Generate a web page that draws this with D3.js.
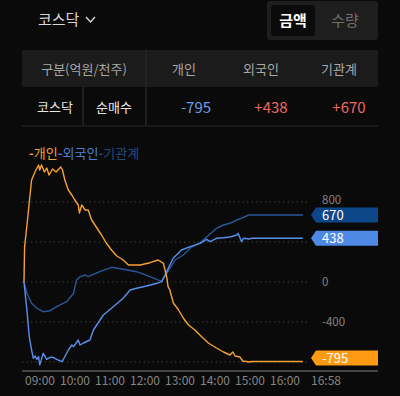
<!DOCTYPE html>
<html>
<head>
<meta charset="utf-8">
<script src="https://cdn.jsdelivr.net/npm/d3@7"></script>
<style>
  body { margin: 0; background: #0a0a0a; }
  svg text { font-family: "Noto Sans CJK KR", "Noto Sans", sans-serif; }
</style>
</head>
<body>
<div class="canva"></div>
<script>
// 데이터 (억원)
const headCols = ['개인', '외국인', '기관계'];
const totals = [-795, 438, 670];

const personTimes = ['09:00','09:01','09:06','09:10','09:13','09:19','09:25','09:27','09:30','09:35','09:39','09:43','09:49','09:55','10:03','10:06','10:10','10:16','10:22','10:27','10:33','10:35','10:39','10:45','10:50','10:56','11:05','11:13','11:21','11:30','11:39','11:50','11:59','12:19','12:36','12:50','12:59','13:05','13:07','13:10','13:16','13:25','13:33','13:42','13:53','14:05','14:16','14:30','14:42','14:53','14:58','15:02','15:10','15:15','15:27','15:30','16:58'];
const personValues = [0,350,620,853,1020,1103,1170,1120,1170,1100,1140,1070,1130,1100,1150,1120,1020,920,870,820,770,690,770,720,720,620,540,470,390,320,260,220,170,170,193,220,187,40,-47,-80,-210,-280,-360,-430,-480,-550,-610,-660,-700,-730,-700,-740,-750,-790,-800,-795,-795];

const foreignTimes = ['09:00','09:05','09:09','09:13','09:16','09:19','09:22','09:25','09:27','09:33','09:39','09:45','09:50','09:56','10:05','10:07','10:16','10:22','10:25','10:33','10:36','10:42','10:53','10:59','11:16','11:33','11:50','12:02','12:13','12:30','12:48','12:56','13:02','13:10','13:16','13:25','13:30','13:45','14:02','14:13','14:19','14:30','14:42','14:53','15:05','15:07','15:13','15:16','15:27','15:30','16:58'];
const foreignValues = [0,-280,-547,-680,-763,-740,-773,-747,-830,-713,-773,-753,-753,-773,-797,-780,-680,-630,-647,-580,-630,-610,-580,-480,-330,-247,-163,-80,-63,-40,-13,3,70,170,240,290,320,353,387,427,403,437,443,450,470,487,403,437,430,438,438];

const instTimes = ['09:00','09:05','09:13','09:22','09:33','09:45','09:56','10:13','10:25','10:30','10:36','10:45','10:50','11:10','11:30','11:50','12:13','12:36','12:53','12:56','13:05','13:19','13:33','13:45','14:02','14:19','14:30','14:42','14:53','15:05','15:16','15:25','15:30','16:58'];
const instValues = [0,-113,-213,-263,-297,-287,-247,-197,-113,20,53,70,53,103,147,127,103,53,13,10,90,220,270,340,393,480,537,570,587,620,647,670,670,670];

const xTicks = ['09:00','10:00','11:00','12:00','13:00','14:00','15:00','16:00'];
const yTicks = [800, 400, 0, -400, -800];
const nowLabel = '16:58';

const colors = ['#f6a135', '#5a90ec', '#28589a'];
const legendColors = ['#f6a135', '#4a7fd6', '#22497d'];
const tagColors = ['#ff9a12', '#4f89e6', '#0d4689'];

const toMin = s => { const p = s.split(':'); return (+p[0] - 9) * 60 + (+p[1]); };

const canva = d3.select('.canva');
const svg = canva.append('svg')
  .attr('width', 400)
  .attr('height', 396);

svg.append('rect').attr('width', 400).attr('height', 396).attr('fill', '#0a0a0a');

// 상단 헤더
svg.append('text').text('코스닥').attr('x', 38).attr('y', 25)
  .attr('fill', '#d8d8d8').attr('font-size', 15);
svg.append('path').attr('d', 'M86,17 L90.5,22 L95,17')
  .attr('fill', 'none').attr('stroke', '#d8d8d8').attr('stroke-width', 1.4);

svg.append('rect').attr('x', 267).attr('y', 1).attr('width', 111).attr('height', 39)
  .attr('rx', 3).attr('fill', '#1e1e1e');
svg.append('rect').attr('x', 271).attr('y', 5).attr('width', 44).attr('height', 31)
  .attr('rx', 3).attr('fill', '#0b0b0b');
svg.append('text').text('금액').attr('x', 293).attr('y', 26).attr('text-anchor', 'middle')
  .attr('fill', '#fff').attr('font-size', 15).attr('font-weight', 'bold');
svg.append('text').text('수량').attr('x', 345).attr('y', 26).attr('text-anchor', 'middle')
  .attr('fill', '#6f6f6f').attr('font-size', 15);

// 표
svg.append('rect').attr('x', 22).attr('y', 50).attr('width', 356).attr('height', 37).attr('fill', '#1b1b1b');
svg.append('line').attr('x1', 146).attr('x2', 146).attr('y1', 50).attr('y2', 126)
  .attr('stroke', '#262626').attr('stroke-width', 1.5);
svg.append('line').attr('x1', 83).attr('x2', 83).attr('y1', 87).attr('y2', 126)
  .attr('stroke', '#262626').attr('stroke-width', 1.5);
svg.append('line').attr('x1', 22).attr('x2', 378).attr('y1', 126).attr('y2', 126)
  .attr('stroke', '#262626').attr('stroke-width', 1);

svg.append('text').text('구분(억원/천주)').attr('x', 84).attr('y', 74).attr('text-anchor', 'middle')
  .attr('fill', '#a8a8a8').attr('font-size', 13);
svg.append('text').text('코스닥').attr('x', 55).attr('y', 112).attr('text-anchor', 'middle')
  .attr('fill', '#e6e6e6').attr('font-size', 13);
svg.append('text').text('순매수').attr('x', 114).attr('y', 112).attr('text-anchor', 'middle')
  .attr('fill', '#e6e6e6').attr('font-size', 13);

const colX = [184, 261, 339];
const valX = [196, 271, 349];
svg.selectAll('text.head')
  .data(headCols)
  .enter()
  .append('text')
  .attr('class', 'head')
  .attr('x', (d, i) => colX[i])
  .attr('y', 74)
  .attr('text-anchor', 'middle')
  .attr('fill', '#a8a8a8')
  .attr('font-size', 13)
  .text(d => d);

svg.selectAll('text.total')
  .data(totals)
  .enter()
  .append('text')
  .attr('class', 'total')
  .attr('x', (d, i) => valX[i])
  .attr('y', 113)
  .attr('text-anchor', 'middle')
  .attr('fill', d => d < 0 ? '#6c9ee8' : '#f06868')
  .attr('font-size', 15)
  .text(d => (d > 0 ? '+' : '') + d);

// 범례
const legend = svg.append('text').attr('x', 29).attr('y', 158).attr('font-size', 13);
headCols.forEach((d, i) => {
  legend.append('tspan').attr('fill', legendColors[i]).attr('font-weight', 'bold').text('-');
  legend.append('tspan').attr('fill', legendColors[i]).text(d);
});

// 차트
const x = d3.scaleLinear().domain([0, 480]).range([24, 304]);
const y = d3.scaleLinear().domain([-800, 800]).range([362, 202]);

svg.selectAll('line.grid')
  .data(yTicks)
  .enter()
  .append('line')
  .attr('class', 'grid')
  .attr('x1', 22).attr('x2', 308)
  .attr('y1', d => y(d)).attr('y2', d => y(d))
  .attr('stroke', '#3c3c3c')
  .attr('stroke-dasharray', '1.5,3');

// 축 라인
svg.append('line').attr('x1', 22).attr('x2', 378).attr('y1', 371).attr('y2', 371)
  .attr('stroke', '#5a5a5a').attr('stroke-width', 1.5);

svg.selectAll('text.xt')
  .data(xTicks)
  .enter()
  .append('text')
  .attr('class', 'xt')
  .attr('x', d => x(toMin(d)) + 1)
  .attr('y', 385)
  .attr('fill', '#858585')
  .attr('font-size', 12)
  .text(d => d);
svg.append('text').text(nowLabel).attr('x', 311).attr('y', 385)
  .attr('fill', '#858585').attr('font-size', 12);

const series = [
  { t: personTimes, v: personValues },
  { t: foreignTimes, v: foreignValues },
  { t: instTimes, v: instValues }
];

const line = d3.line()
  .x(d => x(d[0]))
  .y(d => y(d[1]));

// 그리는 순서: 기관계, 외국인, 개인
[2, 1, 0].forEach(k => {
  const pts = series[k].t.map((t, i) => [toMin(t), series[k].v[i]]);
  svg.append('path')
    .datum(pts)
    .attr('d', line)
    .attr('fill', 'none')
    .attr('stroke', colors[k])
    .attr('stroke-width', 1.4)
    .attr('stroke-linejoin', 'round');
});

// 오른쪽 태그
const tagY = totals.map(d => Math.min(y(d), 358));
const tagH = 15;

// 태그랑 겹치는 눈금은 숨기고, 가까우면 위로 살짝 올림
const labelY = d => {
  let ly = y(d) + 4;
  tagY.forEach(ty => {
    const top = ty - tagH / 2;
    if (ly > top - 4 && ly < top + 4) ly = top - 4;
  });
  return ly;
};

svg.selectAll('text.yt')
  .data(yTicks.filter(d => !tagY.some(ty => Math.abs(ty - y(d)) < 12)))
  .enter()
  .append('text')
  .attr('class', 'yt')
  .attr('x', 322)
  .attr('y', d => labelY(d))
  .attr('fill', '#858585')
  .attr('font-size', 11.5)
  .text(d => d);

totals.forEach((d, i) => {
  const cy = tagY[i];
  svg.append('path')
    .attr('d', `M311,${cy} L316,${cy - tagH / 2} L378,${cy - tagH / 2} L378,${cy + tagH / 2} L316,${cy + tagH / 2} Z`)
    .attr('fill', tagColors[i]);
  svg.append('text')
    .attr('x', 322)
    .attr('y', cy + 5)
    .attr('fill', '#fff')
    .attr('font-size', 13)
    .text(d);
});
</script>
</body>
</html>
